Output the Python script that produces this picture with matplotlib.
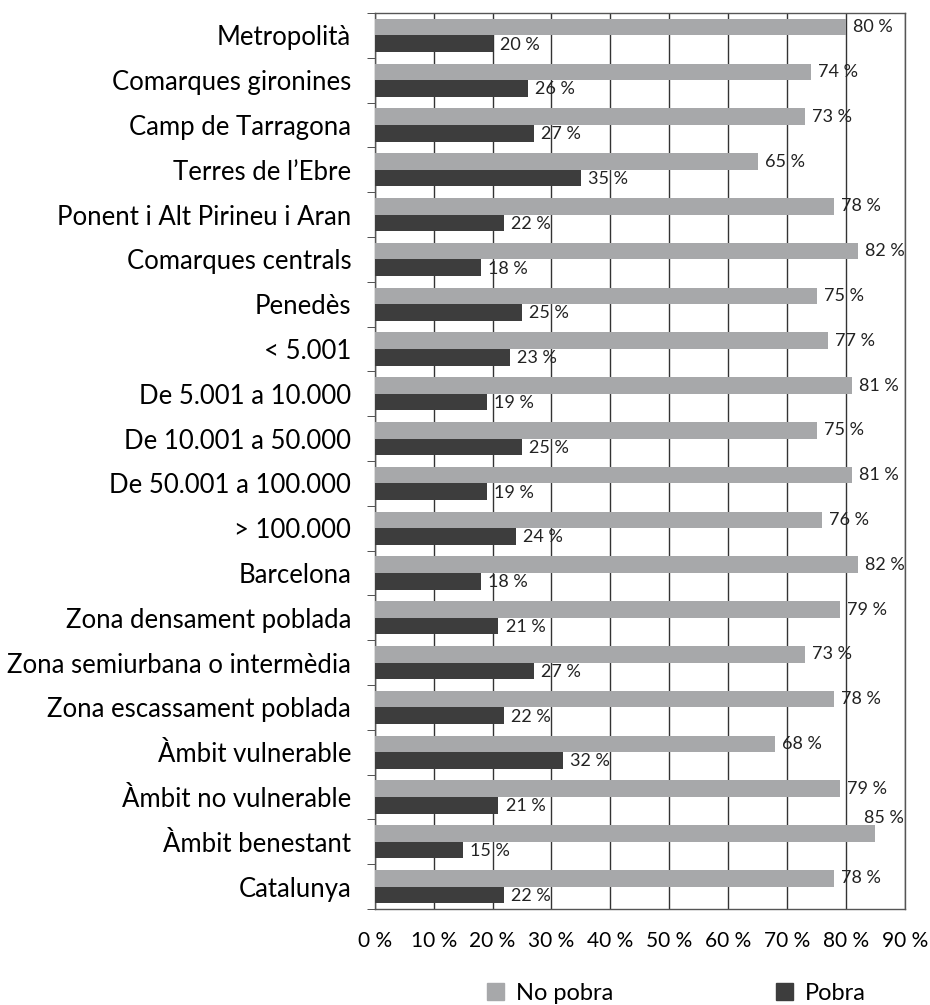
import numpy as np
import matplotlib.pyplot as plt
from matplotlib.patches import Patch

plt.rcParams['font.family'] = ['Lato', 'DejaVu Sans']

# categories top to bottom
categories = ["Metropolità", "Comarques gironines", "Camp de Tarragona",
              "Terres de l’Ebre", "Ponent i Alt Pirineu i Aran",
              "Comarques centrals", "Penedès", "< 5.001", "De 5.001 a 10.000",
              "De 10.001 a 50.000", "De 50.001 a 100.000", "> 100.000",
              "Barcelona", "Zona densament poblada",
              "Zona semiurbana o intermèdia", "Zona escassament poblada",
              "Àmbit vulnerable", "Àmbit no vulnerable", "Àmbit benestant",
              "Catalunya"]
no_pobra = [80, 74, 73, 65, 78, 82, 75, 77, 81, 75, 81, 76, 82, 79, 73, 78,
            68, 79, 85, 78]
pobra = [20, 26, 27, 35, 22, 18, 25, 23, 19, 25, 19, 24, 18, 21, 27, 22,
         32, 21, 15, 22]
x_ticks = [0, 10, 20, 30, 40, 50, 60, 70, 80, 90]

gray = "#a7a8aa"
dark = "#3d3d3d"

fig = plt.figure(figsize=(9.3, 10.05), dpi=100)
ax = fig.add_axes([0.403, 0.0955, 0.570, 0.8915])

n = len(categories)
y = np.arange(n)
h = 0.37

ax.barh(y - h / 2, no_pobra, height=h, color=gray, zorder=3)
ax.barh(y + h / 2, pobra, height=h, color=dark, zorder=3)

# data labels
for i in range(n):
    v = no_pobra[i]
    if v >= 84:
        # no room on the right, Excel pushes it above the bar
        ax.text(89.8, i - 0.53, f"{v} %", ha="right", va="center",
                fontsize=13, color="#222222", zorder=4)
    else:
        ax.text(v + 1.2, i - h / 2, f"{v} %", ha="left", va="center",
                fontsize=13, color="#222222", zorder=4)
    v = pobra[i]
    ax.text(v + 1.2, i + h / 2 + 0.02, f"{v} %", ha="left", va="center",
            fontsize=13, color="#222222", zorder=4)

ax.set_xlim(0, 90)
ax.set_ylim(n - 0.5, -0.5)
ax.set_xticks(x_ticks)
ax.set_xticklabels([f"{t} %" for t in x_ticks], fontsize=15)
ax.tick_params(axis="x", length=0, pad=16)

ax.set_yticks(y)
ax.set_yticklabels(categories, fontsize=18.5)
ax.tick_params(axis="y", length=0, pad=17)
ax.set_yticks(np.arange(-0.5, n, 1), minor=True)
ax.tick_params(axis="y", which="minor", length=6, color="#333333")

ax.grid(axis="x", color="#333333", lw=1, zorder=1)
for s in ax.spines.values():
    s.set_color("#555555")
    s.set_linewidth(1)

handles = [Patch(color=gray, label="No pobra"),
           Patch(color=dark, label="Pobra")]
fig.legend(handles=handles, loc="center left", ncol=2, frameon=False,
           fontsize=17, bbox_to_anchor=(0.5237, 0.0119), borderpad=0,
           borderaxespad=0, columnspacing=6.9, handlelength=0.72,
           handleheight=0.72, handletextpad=0.5)

fig.savefig("out.png", dpi=100)
